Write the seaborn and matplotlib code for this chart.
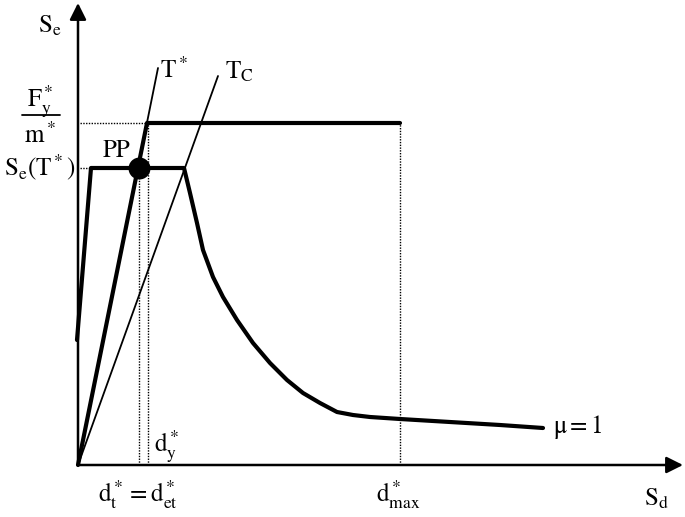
import numpy as np
import pandas as pd
import seaborn as sns
import matplotlib
matplotlib.use("Agg")
import matplotlib.pyplot as plt

sns.set_style("white")
plt.rcParams["mathtext.fontset"] = "stix"
plt.rcParams["font.family"] = ["STIXGeneral", "DejaVu Serif"]

# ---- data (schematic units: Sd horizontal, Se vertical) ----
spectrum_sd = [-1, 13, 106, 112, 119, 125, 135, 145, 159, 175, 192, 209, 225,
               242, 259, 275, 292, 322, 372, 422, 465]
spectrum_se = [125, 297, 297, 272, 242, 215, 188, 168, 145, 122, 102, 85, 72,
               62, 53, 50, 48, 46, 43, 40, 37]

capacity_sd = [0, 69, 322]
capacity_se = [0, 342, 342]

t_star_sd = [0, 80]
t_star_se = [0, 397]
t_c_sd = [0, 140]
t_c_se = [0, 389]

pp_sd = [61]
pp_se = [297]

dt_star = 61      # d_t* = d_et*
dy_star = 70      # d_y*
dmax_star = 322   # d_max*
fy_over_m = 342   # F_y*/m*
se_tstar = 297    # Se(T*)

x_tip = 605
y_tip = 462

fig = plt.figure(figsize=(6.85, 5.17), dpi=100)
ax = fig.add_axes([0, 0, 1, 1])
ax.set_xlim(-78, 607)
ax.set_ylim(-52, 465)
ax.axis("off")

# dotted guide lines
dot = dict(color="black", lw=1.0, linestyle=(0, (1, 1)), zorder=1)
ax.plot([2, dy_star], [fy_over_m, fy_over_m], **dot)
ax.plot([2, 13], [se_tstar, se_tstar], **dot)
ax.plot([dt_star, dt_star], [0, se_tstar], **dot)
ax.plot([dy_star, dy_star], [0, fy_over_m], **dot)
ax.plot([dmax_star, dmax_star], [0, fy_over_m], **dot)

# thin period lines
sns.lineplot(x=t_star_sd, y=t_star_se, ax=ax, color="black", lw=1.3, sort=False, zorder=2)
sns.lineplot(x=t_c_sd, y=t_c_se, ax=ax, color="black", lw=1.3, sort=False, zorder=2)

# thick spectrum and capacity curves
df_spec = pd.DataFrame({"Sd": spectrum_sd, "Se": spectrum_se})
sns.lineplot(data=df_spec, x="Sd", y="Se", ax=ax, color="black", lw=3.0,
             sort=False, zorder=3, solid_joinstyle="round")
df_cap = pd.DataFrame({"Sd": capacity_sd, "Se": capacity_se})
sns.lineplot(data=df_cap, x="Sd", y="Se", ax=ax, color="black", lw=3.0,
             sort=False, zorder=3)

# performance point
sns.scatterplot(x=pp_sd, y=pp_se, ax=ax, color="black", s=250, zorder=4,
                edgecolor="black", linewidth=0)

# axes with arrows
arrow = dict(arrowstyle="-|>,head_length=1.0,head_width=0.5", lw=1.8,
             color="black", shrinkA=0, shrinkB=0)
ax.annotate("", xy=(0, y_tip), xytext=(0, 0), arrowprops=arrow, zorder=5)
ax.annotate("", xy=(x_tip, 0), xytext=(0, 0), arrowprops=arrow, zorder=5)

fs = 18
txt = dict(color="black", fontsize=fs, va="baseline")
ax.text(-28, 433, r"$\mathrm{S_e}$", ha="center", **txt)
ax.text(-38, 358, r"$\mathrm{F_y^*}$", ha="center", **txt)
ax.plot([-56, -18], [350, 350], color="black", lw=1.3)
ax.text(-38, 322, r"$\mathrm{m^*}$", ha="center", **txt)
ax.text(-38, 290, r"$\mathrm{S_e(T^*)}$", ha="center", **txt)
ax.text(38, 308, "PP", ha="center", **txt)
ax.text(82, 387, r"$\mathrm{T^*}$", ha="left", **txt)
ax.text(147, 387, r"$\mathrm{T_C}$", ha="left", **txt)
ax.text(76, 13, r"$\mathrm{d_y^*}$", ha="left", **txt)
ax.text(60, -37, r"$\mathrm{d_t^* = d_{et}^*}$", ha="center", **txt)
ax.text(320, -37, r"$\mathrm{d_{max}^*}$", ha="center", **txt)
ax.text(578, -40, r"$\mathrm{S_d}$", ha="center", **txt)
ax.text(475, 32, r"$\mathrm{\mu = 1}$", ha="left", **txt)

fig.savefig("out.png", dpi=100)
